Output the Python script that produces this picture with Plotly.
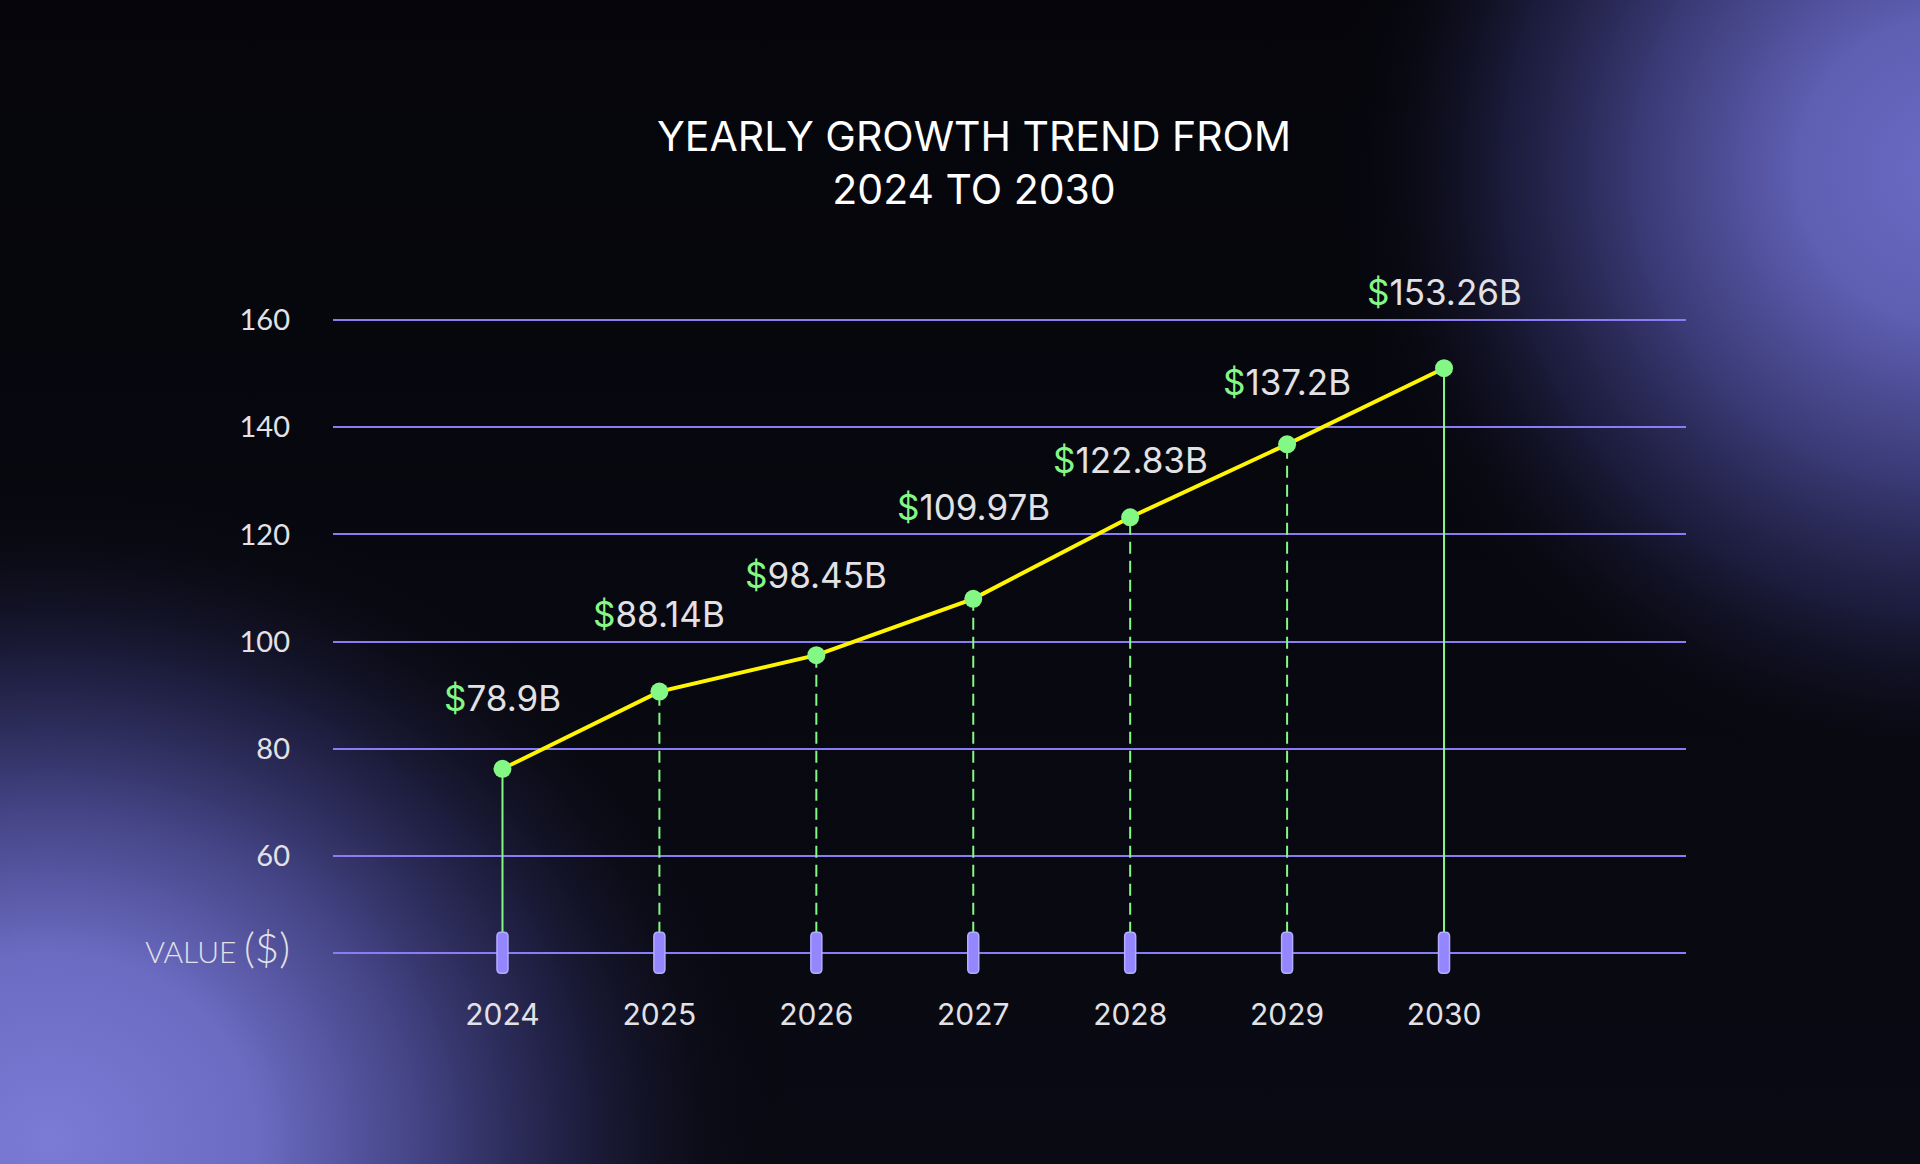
import base64
import plotly.graph_objects as go

# ---------------- data ----------------
years = [2024, 2025, 2026, 2027, 2028, 2029, 2030]
values = [76.3, 90.7, 97.5, 108.0, 123.2, 136.8, 151.0]          # plotted positions
label_values = [78.9, 88.14, 98.45, 109.97, 122.83, 137.2, 153.26]  # printed labels
y_ticks = [60, 80, 100, 120, 140, 160]
title_lines = ["YEARLY GROWTH TREND FROM", "2024 TO 2030"]
axis_label = "VALUE"
axis_unit = "($)"

# ---------------- style ----------------
W, H = 1920, 1164
BASE = 42
X_RANGE = [2022.92, 2031.542]
Y_RANGE = [36, 168]
M_L, M_R, M_T, M_B = 333, 234, 277, 179
label_shift = [71, 78, 80, 92, 57, 62, 76]
line_dash = ["solid", "12px,7px", "12px,7px", "12px,7px", "12px,7px", "12px,7px", "solid"]
GRID = "#8a7cf4"
GREEN = "#84f884"
YELLOW = "#fff500"
TEXT = "#e2e2e6"

svg = f"""<svg xmlns='http://www.w3.org/2000/svg' width='{W}' height='{H}' viewBox='0 0 {W} {H}' preserveAspectRatio='none'>
<defs>
<radialGradient id='bl' gradientUnits='userSpaceOnUse' cx='50' cy='1140' r='690' gradientTransform='translate(50 1140) scale(1.08 0.97) translate(-50 -1140)'>
<stop offset='0' stop-color='#7b7bd6'/>
<stop offset='0.28' stop-color='#6b6bc2'/>
<stop offset='0.5' stop-color='#46468a' stop-opacity='0.95'/>
<stop offset='0.7' stop-color='#25254f' stop-opacity='0.8'/>
<stop offset='0.88' stop-color='#10101f' stop-opacity='0.4'/>
<stop offset='1' stop-color='#06060d' stop-opacity='0'/>
</radialGradient>
<radialGradient id='tr' gradientUnits='userSpaceOnUse' cx='1950' cy='170' r='620'>
<stop offset='0' stop-color='#6b6bc6'/>
<stop offset='0.25' stop-color='#5e5eb2'/>
<stop offset='0.5' stop-color='#3d3d7c' stop-opacity='0.95'/>
<stop offset='0.72' stop-color='#22224a' stop-opacity='0.75'/>
<stop offset='0.9' stop-color='#0f0f1e' stop-opacity='0.35'/>
<stop offset='1' stop-color='#06060d' stop-opacity='0'/>
</radialGradient>
<linearGradient id='base' x1='0' y1='0' x2='0' y2='1'>
<stop offset='0' stop-color='#05050b'/>
<stop offset='1' stop-color='#0a0a14'/>
</linearGradient>
</defs>
<rect width='{W}' height='{H}' fill='url(#base)'/>
<rect width='{W}' height='{H}' fill='url(#bl)'/>
<rect width='{W}' height='{H}' fill='url(#tr)'/>
</svg>"""
bg_uri = "data:image/svg+xml;base64," + base64.b64encode(svg.encode()).decode()

plot_w = W - M_L - M_R
plot_h = H - M_T - M_B

fig = go.Figure()

# drop lines
for yr, v, d in zip(years, values, line_dash):
    fig.add_trace(go.Scatter(x=[yr, yr], y=[BASE, v], mode="lines",
                             line=dict(color=GREEN, width=2, dash=d),
                             hoverinfo="skip", showlegend=False))

# main line
fig.add_trace(go.Scatter(x=years, y=values, mode="lines",
                         line=dict(color=YELLOW, width=4),
                         showlegend=False))
# markers
fig.add_trace(go.Scatter(x=years, y=values, mode="markers",
                         marker=dict(color=GREEN, size=18, line=dict(width=0)),
                         showlegend=False))

# value labels
for yr, v, lv, s in zip(years, values, label_values, label_shift):
    fig.add_annotation(x=yr, y=v, yshift=s, showarrow=False,
                       text=f"<span style='color:{GREEN}'>$</span>{lv}B",
                       font=dict(family="Inter", size=35, color=TEXT),
                       xanchor="center", yanchor="middle")

# tick pills on the baseline
r = 4
w2, h2 = 5.5, 20.5
pill = (f"M {-w2+r},{-h2} L {w2-r},{-h2} Q {w2},{-h2} {w2},{-h2+r} "
        f"L {w2},{h2-r} Q {w2},{h2} {w2-r},{h2} L {-w2+r},{h2} "
        f"Q {-w2},{h2} {-w2},{h2-r} L {-w2},{-h2+r} Q {-w2},{-h2} {-w2+r},{-h2} Z")
for yr in years:
    fig.add_shape(type="path", xref="x", yref="y", xsizemode="pixel", ysizemode="pixel",
                  xanchor=yr, yanchor=BASE, path=pill,
                  fillcolor="#9486ff", line=dict(color="#b4acff", width=1.5), layer="above")

tick_text = [f"<span style='font-family:Lato;font-weight:300;font-size:30px'>{axis_label}</span>"
             f" <span style='font-family:Lato;font-weight:300;font-size:42px'>{axis_unit}</span>"] + \
            [str(t) for t in y_ticks]

fig.update_layout(
    width=W, height=H,
    margin=dict(l=M_L, r=M_R, t=M_T, b=M_B, pad=0),
    paper_bgcolor="#06060d",
    plot_bgcolor="rgba(0,0,0,0)",
    showlegend=False,
    title=dict(text="<br>".join(title_lines), x=974 / W, xref="container", xanchor="center",
               y=1 - 151 / H, yref="container", yanchor="middle",
               font=dict(family="Inter", size=41, color="#ffffff")),
    xaxis=dict(range=X_RANGE, tickvals=years, ticktext=[str(y) for y in years],
               showgrid=False, zeroline=False, showline=False,
               ticks="", ticklabelstandoff=9,
               tickfont=dict(family="Inter", size=30, color=TEXT)),
    yaxis=dict(range=Y_RANGE, tickvals=[BASE] + y_ticks, ticktext=tick_text,
               showgrid=True, gridcolor=GRID, gridwidth=2, zeroline=False, showline=False,
               ticks="", ticklabelstandoff=42,
               tickfont=dict(family="Lato", size=29, color=TEXT)),
    images=[dict(source=bg_uri, xref="paper", yref="paper",
                 x=-M_L / plot_w, y=1 + M_T / plot_h,
                 sizex=W / plot_w, sizey=H / plot_h,
                 sizing="stretch", xanchor="left", yanchor="top", layer="below")],
)

fig.write_html("out.html", config={"displayModeBar": False},
               post_script="document.body.style.margin='0';document.body.style.overflow='hidden';")
